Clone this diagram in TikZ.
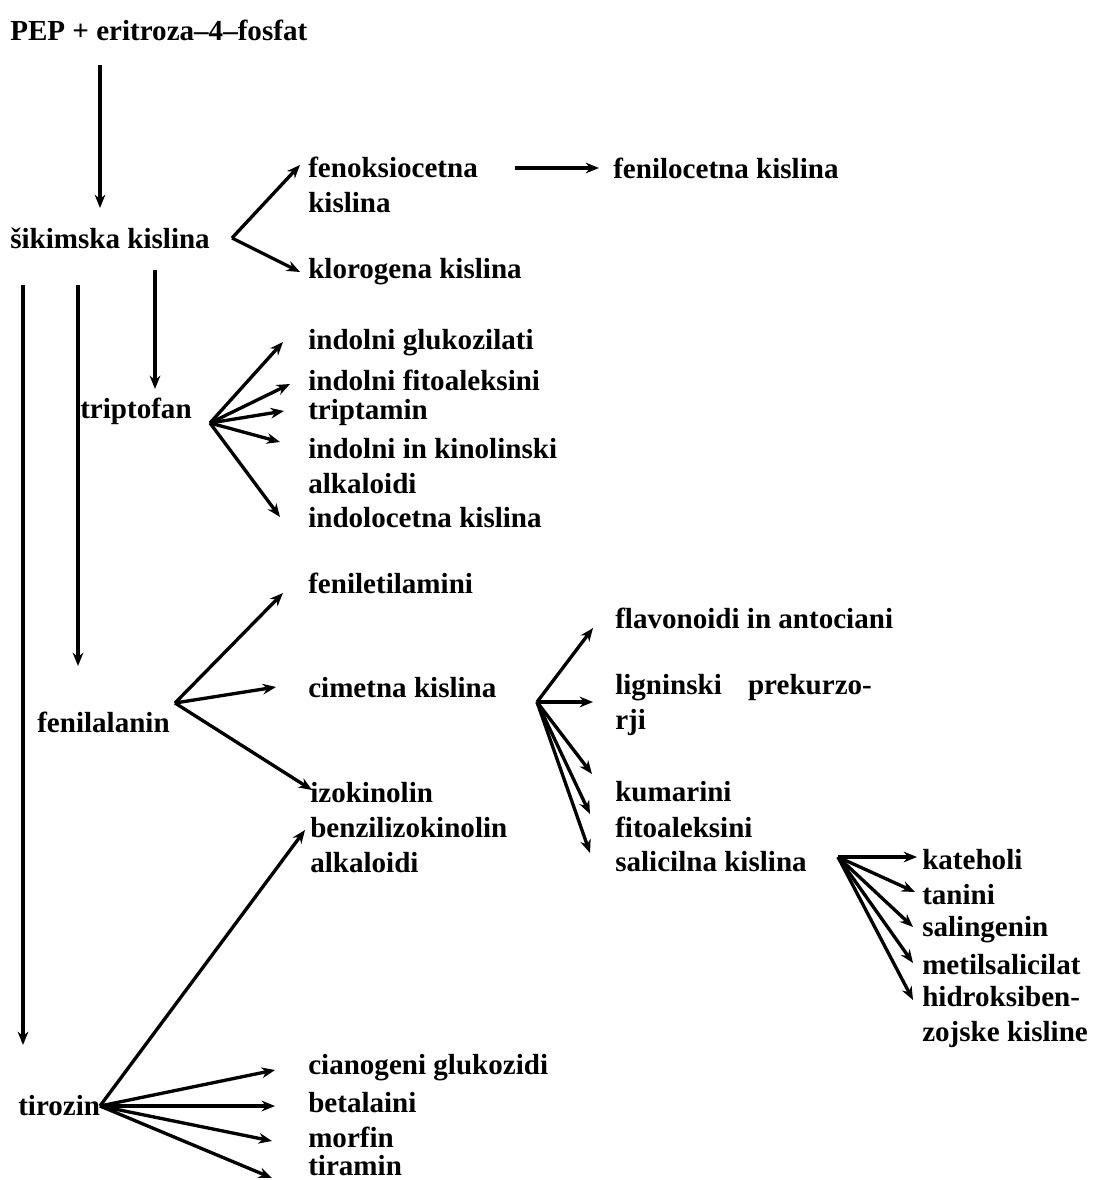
\documentclass[tikz,border=0pt]{standalone}
\usepackage{fontspec}
\setmainfont{Liberation Serif}
\usetikzlibrary{arrows.meta,calc}
\begin{document}
\begin{tikzpicture}[x=0.75pt,y=-0.75pt,
  txt/.style={font=\bfseries\fontsize{21.8}{26.25}\selectfont, inner sep=0pt, anchor=west, align=left},
  arr/.style={line width=2.5pt, -{Stealth[length=10pt,width=8pt]}}]
\useasboundingbox (0,0) rectangle (1095,1180);
\fill[white] (0,0) rectangle (1095,1180);
% texts
\node[txt] (pep) at (10,30) {PEP + eritroza–4–fosfat};
\node[txt] (sik) at (10,238) {šikimska kislina};
\node[txt] (fenok) at (308,185) {fenoksiocetna\\kislina};
\node[txt] (fenil) at (613,168) {fenilocetna kislina};
\node[txt] (klor) at (308,272) {klorogena kislina};
\node[txt] (trp) at (80,411) {triptofan};
\node[txt] (ig) at (308,343) {indolni glukozilati};
\node[txt] (ifa) at (308,380) {indolni fitoaleksini};
\node[txt] (trm) at (308,413) {triptamin};
\node[txt] (ik) at (308,466) {indolni in kinolinski\\alkaloidi};
\node[txt] (iok) at (308,518) {indolocetna kislina};
\node[txt] (fen) at (37,722) {fenilalanin};
\node[txt] (fea) at (308,583) {feniletilamini};
\node[txt] (cim) at (308,688) {cimetna kislina};
\node[txt] (izo) at (310,828) {izokinolin\\benzilizokinolin\\alkaloidi};
\node[txt] (flav) at (615,618) {flavonoidi in antociani};
\node[txt] (lig) at (615,705) {ligninski\hspace{0.9em}prekurzo-\\rji};
\node[txt] (kum) at (615,792) {kumarini};
\node[txt] (fito) at (615,827) {fitoaleksini};
\node[txt] (sal) at (615,862) {salicilna kislina};
\node[txt] (kat) at (922,860) {kateholi};
\node[txt] (tan) at (922,895) {tanini};
\node[txt] (sali) at (922,930) {salingenin};
\node[txt] (met) at (922,965) {metilsalicilat};
\node[txt] (hid) at (922,1017) {hidroksiben-\\zojske kisline};
\node[txt] (tir) at (18,1106) {tirozin};
\node[txt] (cia) at (308,1068) {cianogeni glukozidi};
\node[txt] (bet) at (308,1103) {betalaini};
\node[txt] (mor) at (308,1137) {morfin};
\node[txt] (tira) at (308,1166) {tiramin};
% fork vertices
\coordinate (vs) at (232,238);
\coordinate (vt) at (210,423);
\coordinate (vf) at (175,703);
\coordinate (vc) at (537,702);
\coordinate (vsa) at (838,857);
\coordinate (vtz) at (100,1106);
% ends of the free connectors
\coordinate (p1) at (100,65);   \coordinate (p2) at (100,208);
\coordinate (s1) at (23,285);   \coordinate (s2) at (23,1045);
\coordinate (s3) at (78,285);   \coordinate (s4) at (78,666);
\coordinate (s5) at (155,270);  \coordinate (s6) at (155,389);
\coordinate (f1) at (515,168);  \coordinate (f2) at (599,168);
% arrows
\draw[arr] (p1) -- (p2);
\draw[arr] (vs) -- (300,165);
\draw[arr] (vs) -- (300,272);
\draw[arr] (f1) -- (f2);
\draw[arr] (s1) -- (s2);
\draw[arr] (s3) -- (s4);
\draw[arr] (s5) -- (s6);
% triptofan fork
\draw[arr] (vt) -- (283,342);
\draw[arr] (vt) -- (290,384);
\draw[arr] (vt) -- (284,411);
\draw[arr] (vt) -- (280,442);
\draw[arr] (vt) -- (280,517);
% fenilalanin fork
\draw[arr] (vf) -- (283,593);
\draw[arr] (vf) -- (276,687);
\draw[arr] (vf) -- (312,790);
% cimetna fork
\draw[arr] (vc) -- (593,628);
\draw[arr] (vc) -- (593,702);
\draw[arr] (vc) -- (592,774);
\draw[arr] (vc) -- (590,814);
\draw[arr] (vc) -- (590,853);
% salicilna fork
\draw[arr] (vsa) -- (917,857);
\draw[arr] (vsa) -- (915,892);
\draw[arr] (vsa) -- (913,927);
\draw[arr] (vsa) -- (913,963);
\draw[arr] (vsa) -- (913,1000);
% tirozin fork
\draw[arr] (vtz) -- (305,830);
\draw[arr] (vtz) -- (275,1070);
\draw[arr] (vtz) -- (275,1106);
\draw[arr] (vtz) -- (272,1141);
\draw[arr] (vtz) -- (272,1178);
\end{tikzpicture}
\end{document}
